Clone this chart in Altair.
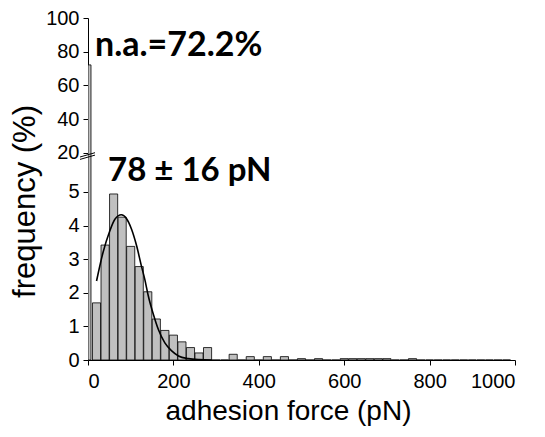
import altair as alt
import pandas as pd

# ---- data ----
bin_centers = list(range(20, 1000, 20))
freq = [1.70, 3.42, 4.94, 4.25, 3.38, 2.78, 2.03, 1.22, 0.88, 0.74,
        0.54, 0.37, 0.21, 0.37, 0.0, 0.0, 0.17, 0.0, 0.10, 0.0,
        0.10, 0.0, 0.10, 0.0, 0.04, 0.0, 0.04, 0.0, 0.0, 0.04,
        0.04, 0.04, 0.04, 0.04, 0.04, 0.0, 0.0, 0.04, 0.0, 0.0,
        0.0, 0.0, 0.0, 0.0, 0.0, 0.0, 0.0, 0.0, 0.0]
bin_width = 19

na_start = [0]
na_end = [7]
na_value = [72.2]

fit_x = [20, 35, 51, 63, 78, 90, 102, 114, 125, 133, 141, 153, 165, 180, 196, 212, 235, 260, 290]
fit_y = [2.35, 3.19, 3.84, 4.19, 4.32, 4.21, 3.89, 3.39, 2.80, 2.40, 1.92, 1.36, 0.90, 0.51, 0.27, 0.12, 0.04, 0.01, 0.0]

x_ticks = [0, 200, 400, 600, 800, 1000]
y_ticks_bottom = [0, 1, 2, 3, 4, 5]
y_ticks_top = [20, 40, 60, 80, 100]

label_na = "n.a.=72.2%"
label_fit = "78 ± 16 pN"

# ---- tables ----
bars_df = pd.DataFrame({
    "c": bin_centers,
    "f": freq,
})
bars_df["x0"] = bars_df["c"] - bin_width / 2
bars_df["x1"] = bars_df["c"] + bin_width / 2
na_df = pd.DataFrame({"x0": na_start, "x1": na_end, "f": na_value})
fit_df = pd.DataFrame({"x": fit_x, "y": fit_y})
one = pd.DataFrame({"k": [0]})

W = 427
H_TOP = 138
H_BOT = 204

xs = alt.Scale(domain=[0, 1000], nice=False, zero=False)
ys_bot = alt.Scale(domain=[0, 6.07], nice=False, zero=False)
ys_top = alt.Scale(domain=[18.2, 100], nice=False, zero=False)

FONT = "Liberation Sans, Arial, sans-serif"
BOLD = "Lato"

x_axis = alt.Axis(values=x_ticks, format="d", title="adhesion force (pN)", grid=False,
                  labelFont=FONT, titleFont=FONT,
                  labelFontSize=20, titleFontSize=28, labelPadding=6,
                  titlePadding=6, tickSize=5, titleX=200, titleAlign="center")
y_axis_bot = alt.Axis(values=y_ticks_bottom, format="d", title="frequency (%)", grid=False,
                      labelFont=FONT, titleFont=FONT,
                      labelFontSize=20, titleFontSize=31, tickSize=5,
                      labelPadding=4, titleX=-54, titleY=45,
                      titleAngle=-90, titleAlign="center",
                      titleBaseline="alphabetic")
y_axis_top = alt.Axis(values=y_ticks_top, format="d", title=None, grid=False,
                      labelFont=FONT,
                      labelFontSize=20, tickSize=5, labelPadding=4)

# ---- bottom panel ----
bars = alt.Chart(bars_df).mark_bar(fill="#c0c0c0", stroke="black", strokeWidth=0.8).encode(
    x=alt.X("x0:Q", scale=xs, axis=x_axis),
    x2="x1:Q",
    y=alt.Y("f:Q", scale=ys_bot, axis=y_axis_bot),
    y2=alt.datum(0),
)
na_bot = alt.Chart(na_df).mark_bar(fill="#c0c0c0", stroke="black", strokeWidth=0.8, clip=True).encode(
    x=alt.X("x0:Q", scale=xs),
    x2="x1:Q",
    y=alt.Y("f:Q", scale=ys_bot),
    y2=alt.datum(0),
)
fit = alt.Chart(fit_df).mark_line(color="black", strokeWidth=1.6, interpolate="monotone").encode(
    x=alt.X("x:Q", scale=xs),
    y=alt.Y("y:Q", scale=ys_bot),
)
fit_text = alt.Chart(one).mark_text(text=label_fit, font=BOLD, fontWeight="bold", fontSize=33,
                                     align="left", baseline="alphabetic", color="black").encode(
    x=alt.value(20), y=alt.value(25))
brk1 = alt.Chart(one).mark_rule(color="black", strokeWidth=1).encode(
    x=alt.value(-8), x2=alt.value(7), y=alt.value(1), y2=alt.value(-3.3))
brk2 = alt.Chart(one).mark_rule(color="black", strokeWidth=1).encode(
    x=alt.value(-8), x2=alt.value(7), y=alt.value(3.4), y2=alt.value(-0.9))

bottom = alt.layer(bars, na_bot, fit, fit_text, brk1, brk2).properties(width=W, height=H_BOT)

# ---- top panel ----
na_top = alt.Chart(na_df).mark_bar(fill="#c0c0c0", stroke="black", strokeWidth=0.8, clip=True).encode(
    x=alt.X("x0:Q", scale=xs, axis=None),
    x2="x1:Q",
    y=alt.Y("f:Q", scale=ys_top, axis=y_axis_top),
    y2=alt.datum(0),
)
na_text = alt.Chart(one).mark_text(text=label_na, font=BOLD, fontWeight="bold", fontSize=34,
                                    align="left", baseline="alphabetic", color="black").encode(
    x=alt.value(7), y=alt.value(38))

top = alt.layer(na_top, na_text).properties(width=W, height=H_TOP)

chart = alt.vconcat(top, bottom, spacing=0, bounds="flush").resolve_scale(
    x="independent", y="independent"
).properties(
    padding={"left": 0, "top": 0, "right": 5, "bottom": 5},
    background="white",
).configure_view(stroke=None).configure_axis(
    domainColor="black", tickColor="black", labelColor="black", titleColor="black",
    labelFont=FONT, titleFont=FONT, titleFontWeight="normal", domainWidth=1,
)

chart.save("out.html", embed_options={"renderer": "svg", "actions": False})
